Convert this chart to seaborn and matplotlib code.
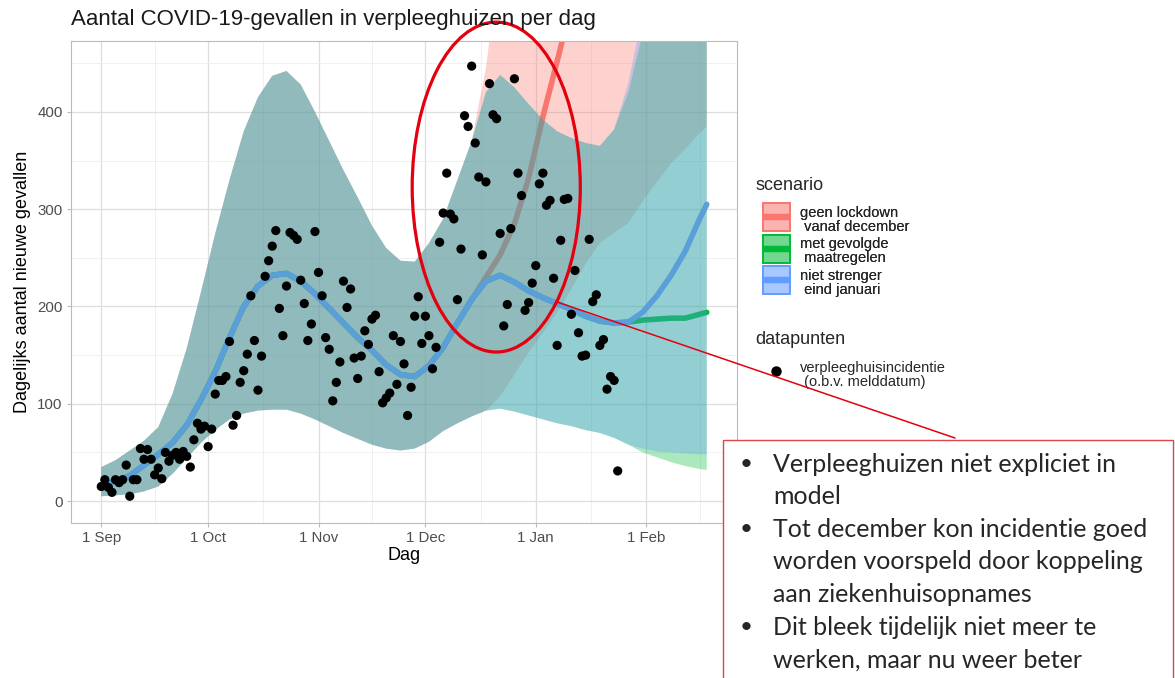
import matplotlib
matplotlib.use("Agg")
import matplotlib.pyplot as plt
import seaborn as sns
from matplotlib.patches import Ellipse, Rectangle, Patch
from matplotlib.lines import Line2D
from matplotlib.legend_handler import HandlerBase

# ---------------- data ----------------
# daily nursing-home incidence, one value per day starting 1 Sep 2020
obs_values = [15, 22, 14, 9, 22, 19, 22, 37, 5, 22, 22, 54, 43, 53, 43, 27, 34, 23, 50, 41,
              47, 50, 43, 51, 46, 35, 63, 80, 74, 77, 56, 74, 110, 124, 124, 128, 164, 78, 88, 122,
              134, 151, 211, 165, 114, 149, 231, 247, 262, 278, 198, 170, 221, 276, 273, 269, 227, 203, 165, 182,
              277, 235, 211, 168, 156, 103, 122, 143, 226, 199, 218, 147, 126, 149, 175, 161, 187, 191, 133, 101,
              106, 111, 170, 120, 164, 141, 88, 117, 190, 210, 162, 190, 170, 136, 158, 266, 296, 337, 295, 290,
              207, 259, 396, 385, 447, 368, 333, 253, 328, 429, 397, 393, 275, 180, 202, 280, 434, 337, 314, 196,
              204, 224, 242, 326, 337, 304, 309, 229, 160, 268, 310, 311, 192, 237, 173, 149, 150, 269, 205, 212,
              160, 166, 115, 128, 124, 31]
obs_days = list(range(len(obs_values)))  # days since 1 Sep

# model scenario curves (days since 1 Sep)
model_days = [0, 4, 8, 12, 16, 20, 24, 28, 32, 36, 40, 44, 48, 52, 56, 60, 64, 68, 72, 76,
              80, 84, 88, 92, 96, 100, 104, 108, 112, 116, 120, 124, 128, 132, 136, 140, 144, 148, 152, 156,
              160, 164, 168, 170]

blue_mid = [16, 20, 26, 37, 48, 60, 78, 104, 133, 168, 200, 221, 232, 234, 226, 213, 198, 183, 168, 155,
            140, 130, 128, 139, 158, 183, 207, 226, 232, 225, 216, 209, 203, 197, 190, 185, 183, 184, 194, 211,
            232, 257, 290, 305]
blue_lo = [5, 6, 7, 10, 15, 28, 44, 60, 73, 84, 90, 93, 94, 94, 90, 84, 77, 70, 64, 58,
           54, 52, 54, 61, 72, 80, 87, 93, 95, 92, 88, 84, 80, 77, 73, 70, 65, 58, 54, 51,
           50, 49, 48, 48]
blue_hi = [35, 42, 52, 62, 76, 110, 157, 215, 275, 330, 380, 415, 437, 442, 428, 400, 370, 340, 312, 283,
           260, 247, 246, 265, 290, 330, 370, 420, 438, 425, 408, 392, 380, 373, 368, 365, 382, 430, 500, 570,
           650, 730, 810, 850]

green_mid = [16, 20, 26, 37, 48, 60, 78, 104, 133, 168, 200, 221, 232, 234, 226, 213, 198, 183, 168, 155,
             140, 130, 128, 139, 158, 183, 207, 226, 232, 225, 216, 209, 203, 197, 190, 185, 183, 184, 186, 187,
             188, 188, 192, 194]
green_lo = [5, 6, 7, 10, 15, 28, 44, 60, 73, 84, 90, 93, 94, 94, 90, 84, 77, 70, 64, 58,
            54, 52, 54, 61, 72, 80, 87, 93, 95, 92, 88, 84, 80, 77, 73, 70, 65, 58, 50, 45,
            40, 36, 33, 32]
green_hi = [35, 42, 52, 62, 76, 110, 157, 215, 275, 330, 380, 415, 437, 442, 428, 400, 370, 340, 312, 283,
            260, 247, 246, 265, 290, 330, 370, 420, 438, 425, 408, 392, 380, 373, 368, 365, 382, 420, 480, 550,
            630, 710, 790, 830]

red_mid = [16, 20, 26, 37, 48, 60, 78, 104, 133, 168, 200, 221, 232, 234, 226, 213, 198, 183, 168, 155,
           140, 130, 128, 139, 158, 183, 207, 230, 253, 285, 332, 395, 452, 510, 575, 640, 705, 770, 835, 900,
           965, 1030, 1095, 1130]
red_lo = [5, 6, 7, 10, 15, 28, 44, 60, 73, 84, 90, 93, 94, 94, 90, 84, 77, 70, 64, 58,
          54, 52, 54, 61, 72, 80, 87, 93, 108, 130, 153, 173, 194, 218, 244, 265, 276, 286, 308, 328,
          347, 362, 378, 385]
red_hi = [35, 42, 52, 62, 76, 110, 157, 215, 275, 330, 380, 415, 437, 442, 428, 400, 370, 340, 312, 283,
          260, 247, 246, 265, 290, 330, 370, 445, 560, 680, 800, 900, 1000, 1100, 1200, 1300, 1400, 1500, 1600, 1700,
          1800, 1900, 2000, 2050]

scenario_title = "scenario"
scenario_labels = ["geen lockdown\n vanaf december", "met gevolgde\n maatregelen", "niet strenger\n eind januari"]
points_title = "datapunten"
points_label = "verpleeghuisincidentie\n (o.b.v. melddatum)"

x_tick_days = [0, 30, 61, 91, 122, 153]
x_tick_labels = ["1 Sep", "1 Oct", "1 Nov", "1 Dec", "1 Jan", "1 Feb"]
x_minor_days = [15, 45.5, 76, 106.5, 137.5, 168]
y_ticks = [0, 100, 200, 300, 400]
y_minor = [50, 150, 250, 350, 450]

title = "Aantal COVID-19-gevallen in verpleeghuizen per dag"
xlabel = "Dag"
ylabel = "Dagelijks aantal nieuwe gevallen"

bullets = ["Verpleeghuizen niet expliciet in\nmodel",
           "Tot december kon incidentie goed\nworden voorspeld door koppeling\naan ziekenhuisopnames",
           "Dit bleek tijdelijk niet meer te\nwerken, maar nu weer beter"]

# ---------------- style ----------------
RED, GREEN, BLUE = "#F8766D", "#00BA38", "#619CFF"
BLUE_LINE = "#5A9EDA"
ALPHA = 0.33
ANNOT = "#E3000F"


class KeyHandler(HandlerBase):
    """ggplot-like legend key: translucent box with a thick line through its centre."""

    def __init__(self, lift=0.0, line_width=4.5):
        super().__init__()
        self.lift = lift
        self.line_width = line_width

    def create_artists(self, legend, orig_handle, xdescent, ydescent, width, height, fontsize, trans):
        y0 = -ydescent + self.lift
        rect = Rectangle((-xdescent, y0), width, height, facecolor=orig_handle.get_facecolor(),
                         edgecolor=orig_handle.get_edgecolor(), lw=orig_handle.get_linewidth(),
                         transform=trans)
        ym = y0 + height / 2
        line = Line2D([-xdescent, -xdescent + width], [ym, ym], color=orig_handle.get_edgecolor(),
                      lw=self.line_width, solid_capstyle="butt", transform=trans)
        return [rect, line]


sns.set_theme(style="whitegrid")
plt.rcParams["font.family"] = ["Liberation Sans", "DejaVu Sans"]

W, H = 1175, 678
fig = plt.figure(figsize=(W / 100, H / 100), dpi=100)
ax = fig.add_axes([71 / W, 1 - 523 / H, (737 - 71) / W, (523 - 41.3) / H])
ax.set_facecolor("white")

# ribbons and lines (order: red, green, blue)
ax.fill_between(model_days, red_lo, red_hi, color=RED, alpha=ALPHA, lw=0, zorder=1.0)
sns.lineplot(x=model_days, y=red_mid, color=RED, lw=4, ax=ax, zorder=1.1, legend=False)
ax.fill_between(model_days, green_lo, green_hi, color=GREEN, alpha=ALPHA, lw=0, zorder=1.2)
sns.lineplot(x=model_days, y=green_mid, color=GREEN, lw=4, ax=ax, zorder=1.3, legend=False)
ax.fill_between(model_days, blue_lo, blue_hi, color=BLUE, alpha=ALPHA, lw=0, zorder=1.4)
sns.lineplot(x=model_days, y=blue_mid, color=BLUE_LINE, lw=4, ax=ax, zorder=1.5, legend=False)

sns.scatterplot(x=obs_days, y=obs_values, color="black", s=44, edgecolor="none", ax=ax, zorder=3,
                legend=False)

ax.set_xlim(-8.5, 178.5)
ax.set_ylim(-22.5, 472.5)
ax.set_xticks(x_tick_days)
ax.set_xticklabels(x_tick_labels)
ax.set_xticks(x_minor_days, minor=True)
ax.set_yticks(y_ticks)
ax.set_yticks(y_minor, minor=True)
ax.set_axisbelow(True)
ax.grid(which="major", color="#DEDEDE", lw=0.9)
ax.grid(which="minor", color="#EEEEEE", lw=0.6)
for sp in ax.spines.values():
    sp.set_color("#BBBBBB")
    sp.set_linewidth(0.8)
ax.tick_params(which="major", length=3, width=0.8, color="#BBBBBB", labelcolor="#4D4D4D",
               labelsize=10.8, left=True, bottom=True, pad=3)
ax.tick_params(which="minor", length=0)

ax.set_xlabel(xlabel, fontsize=13, color="black")
ax.xaxis.set_label_coords(0.5, -0.050)
ax.set_ylabel(ylabel, fontsize=13, color="black")
ax.yaxis.set_label_coords(-0.060, 0.5)

fig.text(71 / W, 1 - 20 / H, title, fontsize=16, ha="left", va="center", color="#1A1A1A")

# legends
LFS = 10.5
handles = [Patch(facecolor=(*matplotlib.colors.to_rgb(c), 0.33), edgecolor=c, lw=1.2)
           for c in (RED, GREEN, BLUE)]
fig.text(755 / W, 1 - 186 / H, scenario_title, fontsize=13, ha="left", va="center")
leg1 = fig.legend(handles, scenario_labels, loc="upper left",
                  bbox_to_anchor=(763 / W, 1 - 205.5 / H), frameon=False, fontsize=LFS,
                  handlelength=1.85, handleheight=2.58, labelspacing=0.17,
                  handletextpad=0.69, borderaxespad=0, borderpad=0,
                  handler_map={Patch: KeyHandler(lift=2.6)})
for t in leg1.get_texts():
    t.set_linespacing(1.0)
fig.text(755 / W, 1 - 340 / H, points_title, fontsize=13, ha="left", va="center")
leg2 = fig.legend([Line2D([], [], marker="o", color="black", ls="none", markersize=6.5)], [points_label],
                  loc="upper left", bbox_to_anchor=(763 / W, 1 - 361 / H),
                  frameon=False, fontsize=LFS, handlelength=1.85, handleheight=2.58,
                  handletextpad=0.69, borderaxespad=0, borderpad=0)
for t in leg2.get_texts():
    t.set_linespacing(1.0)
fig.add_artist(leg1)

# annotation: ellipse around December, connector and text box
ell = Ellipse((110.9, 322.7), width=47.2, height=339, fill=False, edgecolor=ANNOT, lw=2.3,
              clip_on=False, zorder=10)
ax.add_patch(ell)
fig.add_artist(Line2D([557 / W, 955 / W], [1 - 302 / H, 1 - 438 / H], color=ANNOT, lw=1.1,
                      transform=fig.transFigure, zorder=11))
fig.add_artist(Rectangle((723 / W, -0.05), (1173 - 723) / W, 0.05 + 1 - 440 / H,
                         transform=fig.transFigure, facecolor="white", edgecolor="#D8474A",
                         lw=1.0, zorder=12))
line_step = 32.6
yy = 464
for b in bullets:
    parts = b.split("\n")
    fig.text(740 / W, 1 - yy / H, "\u2022", fontsize=16, ha="left", va="center",
             family=["Lato", "DejaVu Sans"], zorder=13)
    for p in parts:
        fig.text(773 / W, 1 - yy / H, p, fontsize=18, ha="left", va="center",
                 family=["Lato", "DejaVu Sans"], zorder=13)
        yy += line_step

fig.savefig("out.png", dpi=100)
